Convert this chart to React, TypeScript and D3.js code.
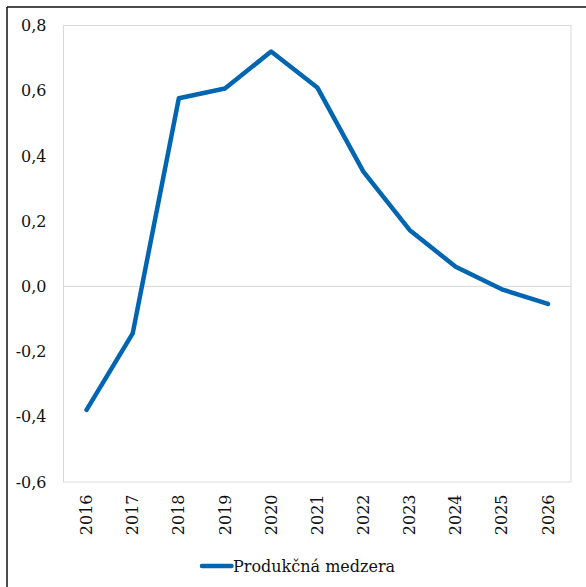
import React from "react";
import * as d3 from "d3";

const years = ["2016", "2017", "2018", "2019", "2020", "2021", "2022", "2023", "2024", "2025", "2026"];
const outputGap = [-0.379, -0.144, 0.577, 0.607, 0.72, 0.61, 0.352, 0.173, 0.06, -0.009, -0.054];
const yTicks = [-0.6, -0.4, -0.2, 0, 0.2, 0.4, 0.6, 0.8];
const seriesName = "Produkčná medzera";

const W = 586;
const H = 587;
const plot = { left: 63.5, right: 571, top: 25.5, bottom: 482 };
const FONT = "'DejaVu Serif', serif";
const BLUE = "#0066B2";
const TEXT = "#111";

export default function App() {
  const x = d3.scaleBand<string>().domain(years).range([plot.left, plot.right]);
  const y = d3.scaleLinear().domain([-0.6, 0.8]).range([plot.bottom, plot.top]);
  const cx = (d: string) => (x(d) ?? 0) + x.bandwidth() / 2;
  const line = d3
    .line<number>()
    .x((_, i) => cx(years[i]))
    .y((v) => y(v));
  const fmt = (v: number) => d3.format(".1f")(v).replace(".", ",").replace("−", "-");

  return (
    <svg
      width={W}
      height={H}
      style={{ position: "absolute", left: 0, top: 0, background: "#fff" }}
      fontFamily={FONT}
    >
      <rect x={0} y={0} width={W} height={H} fill="#fff" />
      {/* outer frame */}
      <line x1={7} x2={7} y1={7} y2={H} stroke="#111" strokeWidth={1.5} />
      <line x1={7} x2={W} y1={7} y2={7} stroke="#111" strokeWidth={1.5} />

      {/* plot border and zero line */}
      <rect
        x={plot.left}
        y={plot.top}
        width={plot.right - plot.left}
        height={plot.bottom - plot.top}
        fill="none"
        stroke="#d9d9d9"
        strokeWidth={1}
      />
      <line x1={plot.left} x2={plot.right} y1={y(0)} y2={y(0)} stroke="#d9d9d9" strokeWidth={1} />

      {/* y-axis labels */}
      {yTicks.map((t) => (
        <text
          key={t}
          x={46.5}
          y={y(t)}
          dy="0.35em"
          textAnchor="end"
          fontSize={16}
          fill={TEXT}
        >
          {fmt(t)}
        </text>
      ))}

      {/* x-axis labels */}
      {years.map((yr) => (
        <text
          key={yr}
          transform={`translate(${cx(yr)},${494.5}) rotate(-90)`}
          dy="0.35em"
          textAnchor="end"
          fontSize={16}
          fill={TEXT}
        >
          {yr}
        </text>
      ))}

      <path
        d={line(outputGap) ?? ""}
        fill="none"
        stroke={BLUE}
        strokeWidth={4.5}
        strokeLinejoin="round"
        strokeLinecap="round"
      />

      {/* legend */}
      <line x1={202} x2={231.5} y1={566} y2={566} stroke={BLUE} strokeWidth={4.5} strokeLinecap="round" />
      <text x={233} y={571.5} fontSize={16} fill={TEXT}>
        {seriesName}
      </text>
    </svg>
  );
}
